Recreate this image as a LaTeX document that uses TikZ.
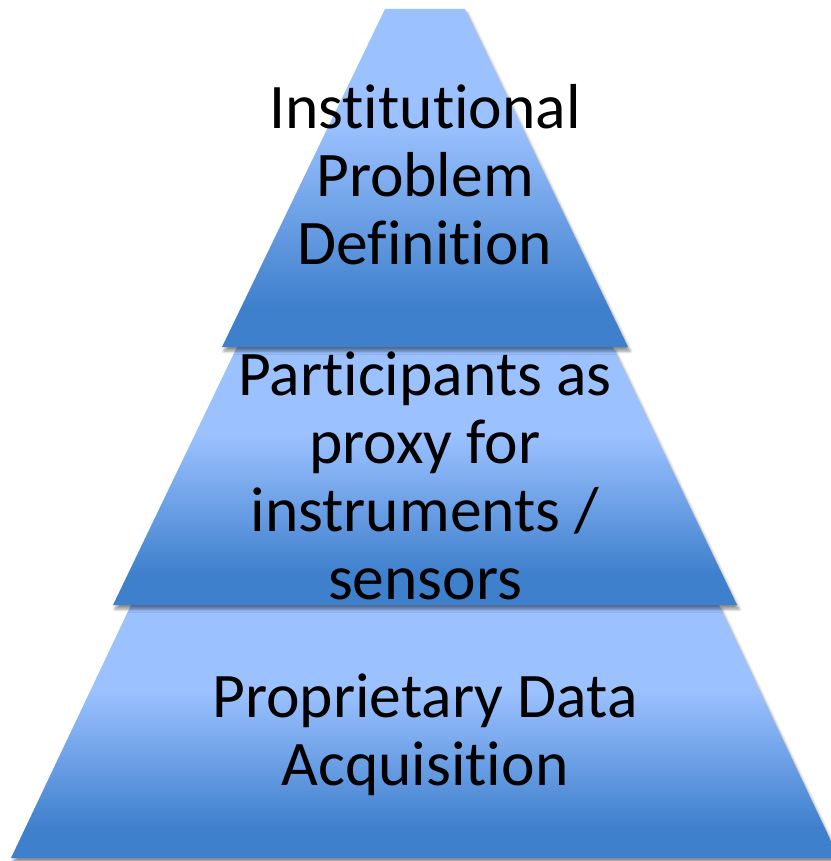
\documentclass[tikz,border=0pt]{standalone}
\usepackage{fontspec}
\setmainfont{Carlito}[Ligatures=NoCommon]
\usetikzlibrary{shadows.blur}
\usepackage{xcolor}
\definecolor{tierlite}{RGB}{155,193,255}
\definecolor{tierdark}{RGB}{63,128,205}

% light at the top, dark at the bottom of every tier
\pgfdeclareverticalshading{tierfill}{100bp}{%
  color(0bp)=(tierdark); color(31bp)=(tierdark);
  color(58bp)=(tierlite); color(100bp)=(tierlite)}

\begin{document}
\begin{tikzpicture}[x=1pt, y=-1pt,
  tier/.style={shading=tierfill, shading angle=0,
               blur shadow={shadow xshift=2pt, shadow yshift=-4pt,
                            shadow blur radius=3pt, shadow opacity=45}},
  lbl/.style={font=\fontsize{63.5}{68}\selectfont, align=center, inner sep=0pt}]
  \useasboundingbox (0,0) rectangle (830,861);
  % tiers, base first so the upper ones cast onto them
  \shade[tier] (131,605) -- (719,605) -- (839,858) -- (11,858) -- cycle;
  \shade[tier] (237,347) -- (613,347) -- (737,605) -- (113,605) -- cycle;
  \shade[tier] (385,9) -- (465,9) -- (628,347) -- (222,347) -- cycle;
  % labels
  \node[lbl] (top) at (425,175) {Institutional\\Problem\\Definition};
  \node[lbl] (mid) at (425,476) {Participants as\\proxy for\\instruments /\\sensors};
  \node[lbl] (base) at (425,735) {Proprietary Data\\Acquisition};
\end{tikzpicture}
\end{document}
